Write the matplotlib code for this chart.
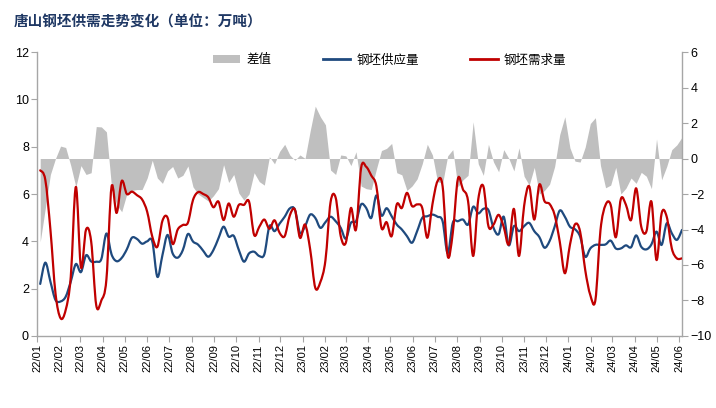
import matplotlib
matplotlib.use('Agg')
import matplotlib.pyplot as plt
import matplotlib.dates as mdates
from matplotlib.patches import Patch, PathPatch
from matplotlib.lines import Line2D
from matplotlib.path import Path
import pandas as pd

plt.rcParams['font.family'] = ['Liberation Sans', 'Noto Sans CJK SC', 'DejaVu Sans']
plt.rcParams['axes.unicode_minus'] = True

# weekly data (万吨)
supply = [2.2, 3.1, 2.3, 1.52, 1.46, 1.66, 2.3, 3.04, 2.7, 3.41,
          3.15, 3.14, 3.25, 4.33, 3.45, 3.16, 3.3, 3.66, 4.15, 4.1,
          3.9, 4.0, 4.0, 2.5, 3.42, 4.27, 3.49, 3.31, 3.63, 4.31,
          3.99, 3.86, 3.6, 3.35, 3.63, 4.13, 4.62, 4.2, 4.23, 3.63,
          3.14, 3.49, 3.56, 3.38, 3.45, 4.64, 4.43, 4.75, 5.04, 5.39,
          5.34, 4.36, 4.64, 5.13, 4.99, 4.57, 4.81, 5.04, 4.85, 4.57,
          4.11, 4.78, 4.85, 5.56, 5.41, 4.99, 5.94, 5.09, 5.4, 5.06,
          4.71, 4.5, 4.22, 3.94, 4.43, 4.99, 5.06, 5.13, 5.04, 4.85,
          3.5, 4.78, 4.85, 4.92, 4.71, 5.46, 5.18, 5.37, 5.32, 4.57,
          4.3, 5.04, 3.83, 4.64, 4.43, 4.64, 4.78, 4.43, 4.18, 3.73,
          4.01, 4.62, 5.3, 5.04, 4.62, 4.51, 4.2, 3.35, 3.7, 3.85,
          3.85, 3.87, 4.03, 3.7, 3.7, 3.83, 3.75, 4.25, 3.77, 3.66,
          3.87, 4.41, 3.85, 4.76, 4.34, 4.06, 4.48]

demand = [7.0, 6.6, 4.5, 1.8, 0.75, 1.1, 2.5, 6.3, 2.9, 4.5,
          4.0, 1.3, 1.5, 2.4, 6.3, 5.2, 6.55, 6.0, 6.1, 5.95,
          5.77, 5.25, 4.2, 3.77, 4.87, 5.0, 3.89, 4.5, 4.69, 4.79,
          5.75, 6.08, 6.0, 5.86, 5.44, 5.68, 4.9, 5.6, 5.04, 5.54,
          5.54, 5.68, 4.27, 4.61, 4.92, 4.53, 4.89, 4.36, 4.22, 5.09,
          5.34, 4.15, 4.71, 3.66, 2.04, 2.28, 3.2, 5.65, 5.85, 4.22,
          3.94, 5.41, 4.5, 7.1, 7.15, 6.78, 6.33, 4.57, 4.81, 4.22,
          5.56, 5.41, 6.05, 5.49, 5.56, 5.41, 4.15, 5.56, 6.54, 6.33,
          3.38, 4.36, 6.64, 6.19, 5.7, 3.38, 5.77, 6.33, 4.64, 4.71,
          5.12, 4.61, 3.87, 5.37, 3.38, 5.49, 6.33, 4.92, 6.4, 5.7,
          5.58, 5.11, 3.99, 2.65, 3.85, 4.72, 4.41, 2.79, 1.73, 1.52,
          4.48, 5.54, 5.54, 4.17, 5.79, 5.54, 4.9, 6.24, 4.62, 4.41,
          5.68, 3.21, 5.18, 5.04, 3.7, 3.28, 3.28]

gap = [-4.7, -2.8, -0.9, 0.0, 0.7, 0.62, -0.4, -1.6, -0.4, -0.9,
       -0.8, 1.8, 1.78, 1.5, -1.6, -2.6, -3.0, -2.0, -1.8, -1.75,
       -1.75, -1.1, -0.1, -1.1, -1.4, -0.7, -0.45, -1.1, -0.95, -0.42,
       -1.6, -2.0, -2.2, -2.4, -2.1, -1.7, -0.35, -1.35, -0.9, -1.95,
       -2.35, -2.0, -0.8, -1.3, -1.5, 0.1, -0.3, 0.4, 0.8, 0.2,
       -0.1, 0.2, 0.0, 1.55, 2.95, 2.35, 1.9, -0.65, -0.9, 0.2,
       0.15, -0.4, 0.38, -1.55, -1.7, -1.75, -0.6, 0.45, 0.57, 0.85,
       -0.8, -0.92, -1.8, -1.55, -1.15, -0.3, 0.8, 0.2, -1.3, -1.4,
       0.15, 0.5, -1.6, -1.2, -0.95, 2.07, -0.3, -0.95, 0.8, -0.2,
       -0.75, 0.5, 0.0, -0.7, 0.6, -1.0, -1.5, -0.5, -2.0, -1.8,
       -1.45, -0.45, 1.35, 2.35, 0.6, -0.15, -0.2, 0.65, 1.97, 2.3,
       -0.4, -1.65, -1.5, -0.5, -2.0, -1.67, -1.1, -1.4, -0.78, -1.0,
       -1.7, 1.1, -1.2, -0.45, 0.5, 0.77, 1.2]

start_date = '2022-01-05'
axis_start = '2022-01-01'
left_ticks = [0, 2, 4, 6, 8, 10, 12]
right_ticks = [-10, -8, -6, -4, -2, 0, 2, 4, 6]
labels = ['差值', '钢坯供应量', '钢坯需求量']
title = '唐山钢坯供需走势变化（单位：万吨）'

dates = pd.date_range(start_date, periods=len(supply), freq='7D')
xnum = mdates.date2num(dates.to_pydatetime())

BLUE = '#1F4A7E'
RED = '#C00000'
AREA = '#BFBFBF'
GRAY = '#A6A6A6'


def smooth_path(x, y):
    """Excel-style smoothed line (Catmull-Rom as cubic Bezier) through the data points."""
    n = len(x)
    verts = [(x[0], y[0])]
    codes = [Path.MOVETO]
    for i in range(n - 1):
        p0 = (x[i - 1], y[i - 1]) if i > 0 else (x[i], y[i])
        p1 = (x[i], y[i])
        p2 = (x[i + 1], y[i + 1])
        p3 = (x[i + 2], y[i + 2]) if i + 2 < n else p2
        c1 = (p1[0] + (p2[0] - p0[0]) / 6.0, p1[1] + (p2[1] - p0[1]) / 6.0)
        c2 = (p2[0] - (p3[0] - p1[0]) / 6.0, p2[1] - (p3[1] - p1[1]) / 6.0)
        verts += [c1, c2, p2]
        codes += [Path.CURVE4] * 3
    return Path(verts, codes)


fig = plt.figure(figsize=(7.16, 4.08), dpi=100)
ax = fig.add_axes([0.0521, 0.1765, 0.9004, 0.696])
ax.xaxis_date()
ax2 = ax.twinx()
ax.set_zorder(ax2.get_zorder() + 1)
ax.patch.set_visible(False)

ax2.fill_between(xnum, gap, 0, color=AREA, linewidth=0)
ax2.set_ylim(-10, 6)
ax2.set_yticks(right_ticks)

for series, col in ((supply, BLUE), (demand, RED)):
    ax.add_patch(PathPatch(smooth_path(xnum, series), facecolor='none', edgecolor=col,
                           lw=1.6, joinstyle='round', capstyle='round'))

ax.set_ylim(0, 12)
ax.set_yticks(left_ticks)
ax.set_xlim(mdates.date2num(pd.Timestamp(axis_start).to_pydatetime()), xnum[-1])
ax.xaxis.set_major_locator(mdates.MonthLocator())
ax.xaxis.set_major_formatter(mdates.DateFormatter('%y/%m'))

for s in ['top', 'right']:
    ax.spines[s].set_visible(False)
for s in ['top', 'left', 'bottom']:
    ax2.spines[s].set_visible(False)
for a, names in ((ax, ['left', 'bottom']), (ax2, ['right'])):
    for s in names:
        a.spines[s].set_color(GRAY)
        a.spines[s].set_linewidth(1.0)

ax.tick_params(axis='y', direction='out', length=4, color=GRAY, labelsize=9, pad=2)
ax2.tick_params(axis='y', direction='out', length=4, color=GRAY, labelsize=9, pad=2)
ax.tick_params(axis='x', direction='out', length=4, color=GRAY, labelsize=8, pad=2,
               labelrotation=90)

handles = [Patch(facecolor=AREA, edgecolor='none'),
           Line2D([], [], color=BLUE, lw=2),
           Line2D([], [], color=RED, lw=2)]
fig.legend(handles, labels, loc='center', bbox_to_anchor=(0.544, 0.853), ncol=3,
           frameon=False, prop={'family': 'Noto Sans CJK SC', 'size': 9},
           handlelength=2.2, handletextpad=0.5, columnspacing=4.1)

fig.text(14 / 716, 0.946, title, fontsize=10.5, fontweight='bold',
         color='#1F3864', family='Noto Sans CJK SC', va='center', ha='left')

fig.savefig('out.png', dpi=100)
